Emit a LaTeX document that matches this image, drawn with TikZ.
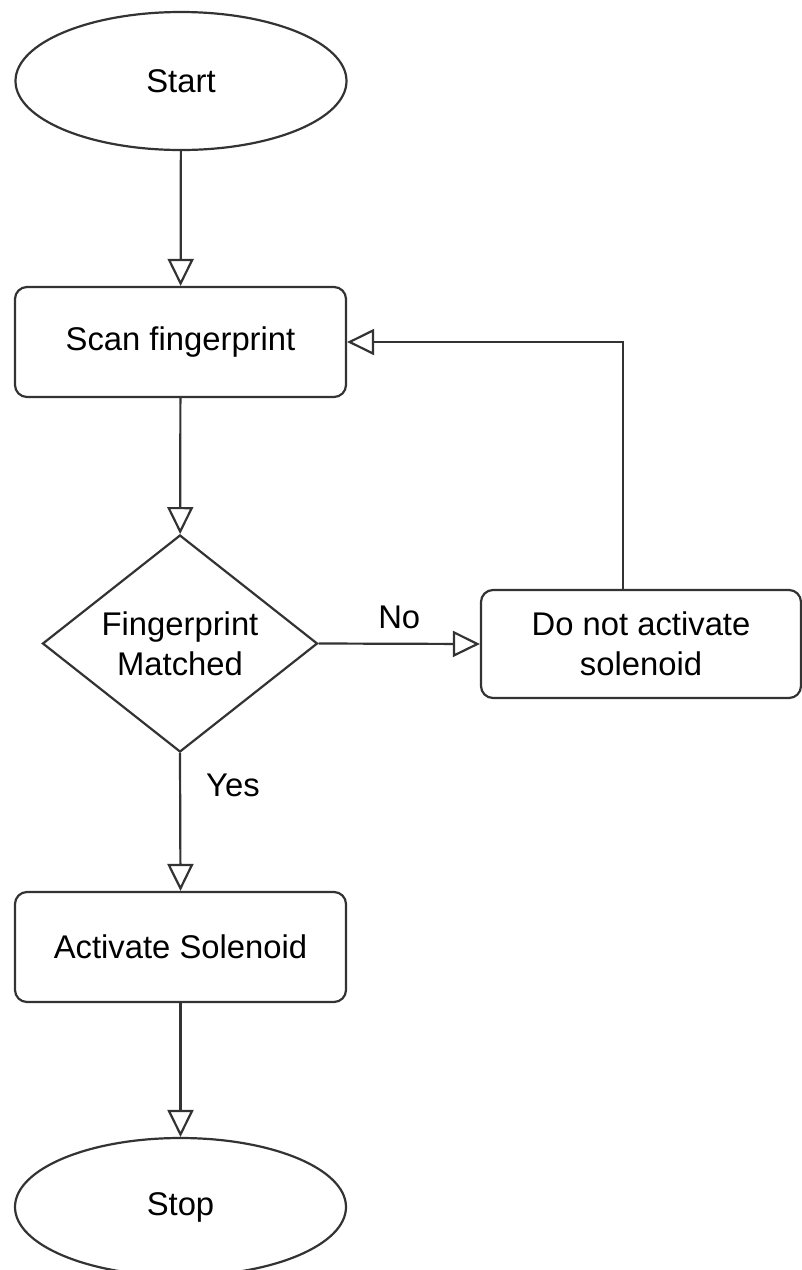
\documentclass[tikz,border=0pt]{standalone}
\usepackage{fontspec}
\setmainfont{Liberation Sans}
\usetikzlibrary{shapes.geometric,arrows.meta}
\definecolor{lc}{HTML}{333333}
\tikzset{
  base/.style={draw=lc, line width=2.2pt, inner sep=0pt, align=center,
    font=\fontsize{32.8}{40}\selectfont, text=black},
  term/.style={base, ellipse, minimum width=331pt, minimum height=138pt},
  proc/.style={base, rectangle, rounded corners=12pt, minimum width=331pt, minimum height=110pt},
  dec/.style={base, diamond, aspect=1.267, minimum width=275pt, minimum height=217pt},
  arr/.style={draw=lc, line width=2.2pt, -{Triangle[open, length=27pt, width=26pt]}},
  lbl/.style={font=\fontsize{32.8}{40}\selectfont, text=black, inner sep=0pt}
}
\begin{document}
\begin{tikzpicture}[x=1pt,y=-1pt]
\useasboundingbox (0,0) rectangle (802,1270);
\node[term] (start) at (181,81) {Start};
\node[proc] (scan) at (180.5,342) {Scan fingerprint};
\node[dec] (match) at (180,643.5) {Fingerprint\\Matched};
\node[proc, minimum width=320pt, minimum height=108pt] (no) at (641,644) {Do not activate\\solenoid};
\node[proc] (act) at (180.5,947) {Activate Solenoid};
\node[term] (stop) at (180.5,1207) {Stop};
\coordinate (loopx) at (623,0);
\draw[arr] (start) -- (scan);
\draw[arr] (scan) -- (match);
\draw[arr] (match.east) -- node[lbl, above=14pt, pos=0.5] (nolbl) {No} (no.west);
\draw[arr] (match.south) -- (act.north);
\node[lbl] (yeslbl) at (233,785) {Yes};
\draw[arr] (act) -- (stop);
\draw[arr] (no.north -| loopx) |- (scan.east);
\end{tikzpicture}
\end{document}
